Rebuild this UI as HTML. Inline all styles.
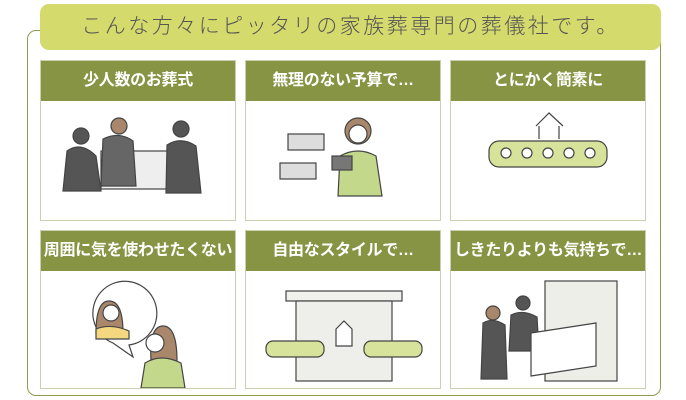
<!DOCTYPE html>
<html><head><meta charset="utf-8"><style>
body{margin:0;width:686px;height:400px;background:#fff;position:relative;overflow:hidden;font-family:"Liberation Sans","Noto Sans CJK JP",sans-serif}
.frame{position:absolute;left:27px;top:30px;width:634px;height:366px;border:1.5px solid #8d9d52;border-radius:9px;box-sizing:border-box}
.pill{position:absolute;left:40px;top:4px;width:621px;height:46px;background:#d4da6c;border-radius:9px;color:#555;font-size:21px;letter-spacing:2.5px;line-height:46px;text-align:center;font-weight:300}
.card{position:absolute;width:196px;border:1px solid #c9cfb0;box-sizing:border-box;background:#fff}
.card .h{height:40px;background:#869443;color:#fff;font-weight:bold;font-size:16px;line-height:40px;text-align:center;white-space:nowrap;letter-spacing:-0.3px}
.card svg{display:block}
</style></head><body>
<div class="frame"></div>
<div class="pill">こんな方々にピッタリの家族葬専門の葬儀社です。</div>

<div class="card" style="left:40px;top:60px;height:161px"><div class="h">少人数のお葬式</div>
<svg width="194" height="119" stroke="#444" stroke-width="1.2" fill="none">
<rect x="60" y="50" width="70" height="38" fill="#eee"/>
<circle cx="40" cy="35" r="8" fill="#555"/><path d="M22 90 L26 50 Q40 40 55 55 L60 90Z" fill="#555"/>
<circle cx="78" cy="25" r="8" fill="#a9876a"/><path d="M60 85 L62 38 Q78 30 92 40 L95 85Z" fill="#666"/>
<circle cx="140" cy="28" r="8" fill="#555"/><path d="M125 92 L126 44 Q140 35 155 45 L160 92Z" fill="#555"/>
</svg></div>

<div class="card" style="left:245px;top:60px;height:161px"><div class="h">無理のない予算で…</div>
<svg width="194" height="119" stroke="#444" stroke-width="1.2" fill="none">
<rect x="42" y="33" width="36" height="16" fill="#ddd"/><rect x="34" y="62" width="36" height="16" fill="#ddd"/>
<circle cx="112" cy="30" r="13" fill="#a9876a"/><circle cx="112" cy="33" r="9" fill="#fff"/>
<path d="M92 95 L94 55 Q112 45 130 55 L136 95Z" fill="#c3d88a"/><rect x="86" y="55" width="20" height="14" fill="#777"/>
</svg></div>

<div class="card" style="left:450px;top:60px;height:161px"><div class="h">とにかく簡素に</div>
<svg width="194" height="119" stroke="#444" stroke-width="1.2" fill="none">
<path d="M85 25 L98 12 L112 25 M88 25 V38 M108 25 V38"/>
<rect x="38" y="40" width="118" height="26" rx="10" fill="#d7e29a"/>
<g fill="#fff"><circle cx="55" cy="52" r="5"/><circle cx="76" cy="52" r="5"/><circle cx="97" cy="52" r="5"/><circle cx="118" cy="52" r="5"/><circle cx="139" cy="52" r="5"/></g>
</svg></div>

<div class="card" style="left:40px;top:230px;height:159px"><div class="h">周囲に気を使わせたくない</div>
<svg width="194" height="117" stroke="#444" stroke-width="1.2" fill="none">
<path d="M72 72 A32 32 0 1 1 88 74 L92 86 Z" fill="#fff"/>
<path d="M55 62 Q55 30 68 30 Q82 30 82 62Z" fill="#a9876a"/><path d="M55 68 L55 58 Q70 52 88 60 L88 68Z" fill="#f5d77f"/>
<circle cx="70" cy="42" r="8" fill="#fff"/>
<path d="M110 90 Q108 55 122 55 Q136 55 136 90Z" fill="#a9876a"/><circle cx="114" cy="72" r="9" fill="#fff"/>
<path d="M100 117 L104 92 Q120 82 140 92 L144 117Z" fill="#c3d88a"/>
</svg></div>

<div class="card" style="left:245px;top:230px;height:159px"><div class="h">自由なスタイルで…</div>
<svg width="194" height="117" stroke="#444" stroke-width="1.2" fill="none">
<rect x="40" y="20" width="116" height="10" fill="#f0f0ec"/>
<rect x="50" y="30" width="96" height="80" fill="#eeeeea"/>
<path d="M90 58 L98 50 L106 58 V75 H90Z" fill="#fff"/>
<rect x="20" y="70" width="58" height="16" rx="7" fill="#d7e29a"/><rect x="118" y="70" width="58" height="16" rx="7" fill="#d7e29a"/>
</svg></div>

<div class="card" style="left:450px;top:230px;height:159px"><div class="h">しきたりよりも気持ちで…</div>
<svg width="194" height="117" stroke="#444" stroke-width="1.2" fill="none">
<rect x="94" y="10" width="72" height="100" fill="#eeeee9"/>
<circle cx="42" cy="42" r="7" fill="#a9876a"/><path d="M30 108 L32 52 Q42 46 54 54 L56 108Z" fill="#555"/>
<circle cx="72" cy="32" r="7" fill="#555"/><path d="M58 80 L60 44 Q72 38 86 46 L88 80Z" fill="#555"/>
<path d="M80 62 L145 52 V95 L80 105Z" fill="#fff"/>
</svg></div>
</body></html>
